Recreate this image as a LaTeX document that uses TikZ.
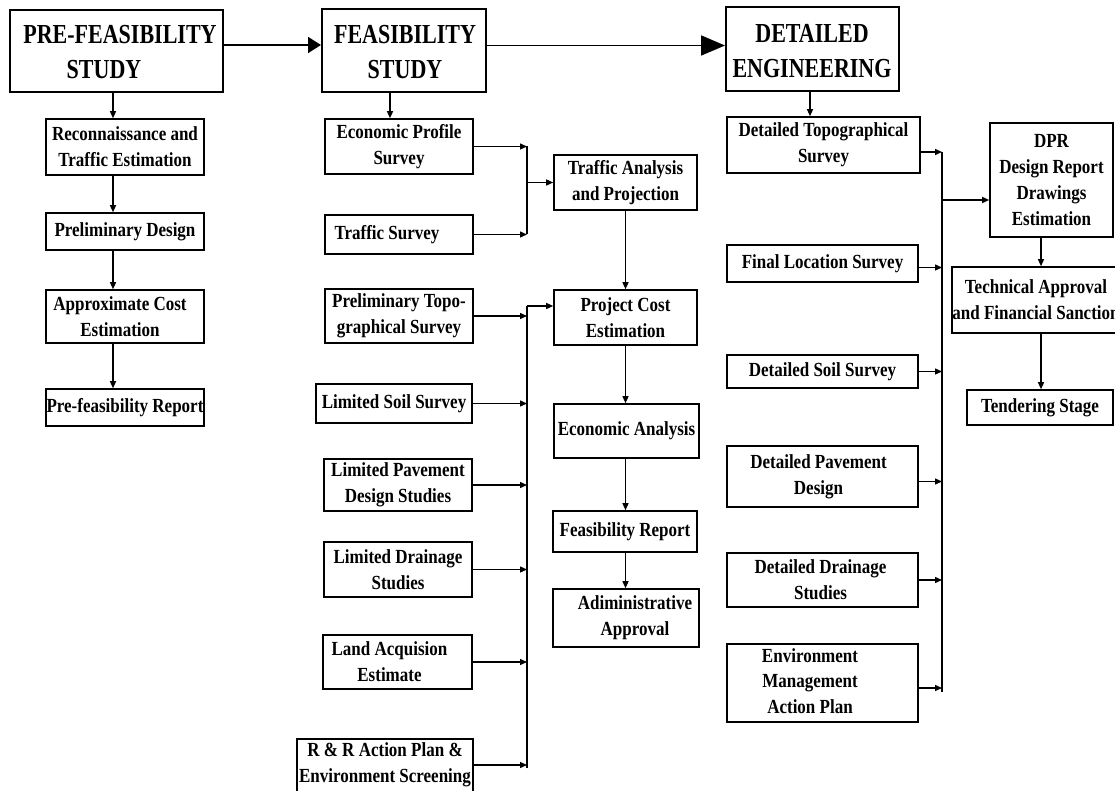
\documentclass[tikz,border=0pt]{standalone}
\usepackage{fontspec}
\setmainfont{Liberation Serif}[FakeStretch=0.85]
\newfontfamily\hdrfont{Liberation Serif}[FakeStretch=0.8]
\usetikzlibrary{arrows.meta}
\newcommand\mybox[6][box]{\node[#1, minimum width={(#5)-(#3)}, minimum height={(#6)-(#4)}] (#2) at ({((#3)+(#5))/2},{((#4)+(#6))/2}) {};}
\begin{document}
\begin{tikzpicture}[x=1pt,y=-1pt,
  box/.style={draw, line width=1.6pt, inner sep=0pt},
  hbox/.style={draw, line width=2pt, inner sep=0pt},
  txt/.style={font=\bfseries\fontsize{20}{26}\selectfont, align=center, inner sep=0pt},
  htxt/.style={font=\hdrfont\bfseries\fontsize{27.5}{35}\selectfont, align=center, inner sep=0pt},
  conn/.style={line width=1.3pt},
  arr/.style={conn, -{Triangle[length=7pt,width=6pt]}},
  hdrarrA/.style={line width=1.8pt, -{Triangle[length=13pt,width=16pt]}},
  hdrarrB/.style={line width=1.8pt, -{Triangle[length=24pt,width=20pt]}}]
\clip (0,0) rectangle (1115,791);
\fill[white] (0,0) rectangle (1115,791);

% headers
\mybox[hbox]{pre}{10}{10}{223}{92}
\mybox[hbox]{feas}{322}{9}{486}{92}
\mybox[hbox]{de}{726}{7}{899}{91}
\node[htxt] (pre-t1) at (120,35) {PRE-FEASIBILITY};
\node[htxt] (pre-t2) at (104,70) {STUDY};
\node[htxt] (feas-t) at (405,52) {FEASIBILITY\\STUDY};
\node[htxt] (de-t) at (812,51) {DETAILED\\ENGINEERING};

% column 1
\mybox{recon}{46}{119}{204}{175}
\mybox{pd}{46}{213}{204}{250}
\mybox{ace}{46}{290}{204}{343}
\mybox{pfr}{46}{389}{204}{426}
\node[txt] (recon-t) at (recon) {Reconnaissance and\\Traffic Estimation};
\node[txt] (pd-t) at (pd) {Preliminary Design};
\node[txt] (ace-t) at ([xshift=-5pt]ace) {Approximate Cost\\Estimation};
\node[txt] (pfr-t) at (pfr) {Pre-feasibility Report};

% column 2
\mybox{eps}{325}{119}{473}{174}
\mybox{ts}{325}{215}{473}{254}
\mybox{pts}{325}{289}{473}{343}
\mybox{lss}{316}{384}{472}{423}
\mybox{lpd}{324}{459}{472}{511}
\mybox{lds}{324}{542}{472}{597}
\mybox{lae}{323}{635}{472}{689}
\mybox{rr}{297}{739}{473}{796}
\node[txt] (eps-t) at (eps) {Economic Profile\\Survey};
\node[txt] (ts-t) at ([xshift=-12pt]ts) {Traffic Survey};
\node[txt] (pts-t) at (pts) {Preliminary Topo-\\graphical Survey};
\node[txt] (lss-t) at (lss) {Limited Soil Survey};
\node[txt] (lpd-t) at (lpd) {Limited Pavement\\Design Studies};
\node[txt] (lds-t) at (lds) {Limited Drainage\\Studies};
\node[txt] (lae-t) at ([xshift=-8pt]lae) {Land Acquision\\Estimate};
\node[txt] (rr-t) at (385,765) {R \& R Action Plan \&\\Environment Screening};

\mybox{tap}{554}{155}{697}{210}
\mybox{pce}{554}{290}{697}{345}
\mybox{ea}{554}{404}{699}{458}
\mybox{fr}{553}{511}{697}{552}
\mybox{aa}{553}{589}{699}{647}
\node[txt] (tap-t) at (tap) {Traffic Analysis\\and Projection};
\node[txt] (pce-t) at (pce) {Project Cost\\Estimation};
\node[txt] (ea-t) at (ea) {Economic Analysis};
\node[txt] (fr-t) at (fr) {Feasibility Report};
\node[txt] (aa-t) at ([xshift=9pt]aa) {Adiministrative\\Approval};

% column 3
\mybox{dts}{727}{117}{920}{173}
\mybox{fls}{727}{245}{918}{282}
\mybox{dss}{727}{355}{918}{388}
\mybox{dpd}{727}{446}{918}{507}
\mybox{dds}{727}{553}{918}{607}
\mybox{emap}{727}{644}{918}{722}
\node[txt] (dts-t) at (dts) {Detailed Topographical\\Survey};
\node[txt] (fls-t) at (fls) {Final Location Survey};
\node[txt] (dss-t) at (dss) {Detailed Soil Survey};
\node[txt] (dpd-t) at ([xshift=-4pt]dpd) {Detailed Pavement\\Design};
\node[txt, font=\bfseries\fontsize{20}{25.5}\selectfont] (emap-t) at (810,681) {Environment\\Management\\Action Plan};
\node[txt] (dds-t) at ([xshift=-2pt]dds) {Detailed Drainage\\Studies};

\mybox{dpr}{990}{123}{1113}{237}
\mybox{tafs}{952}{267}{1122}{333}
\mybox{tend}{967}{390}{1113}{425}
\node[txt] (dpr-t) at (dpr) {DPR\\Design Report\\Drawings\\Estimation};
\node[txt] (tafs-t) at (1036,300) {Technical Approval\\and Financial Sanction};
\node[txt] (tend-t) at (tend) {Tendering Stage};

% header arrows
\draw[hdrarrA] ([yshift=6pt]pre.east) -- ([yshift=6pt]pre.east -| feas.west);
\draw[hdrarrB] ([yshift=5pt]feas.east) -- ([yshift=5pt]feas.east -| de.west);

% vertical guide coordinates
\coordinate (c1) at (113,0);
\coordinate (c2) at (390,0);
\coordinate (c3) at (810,0);
\coordinate (c4) at (1041,0);
\coordinate (b1) at (527,0);
\coordinate (b2top) at (527,306);
\coordinate (b3) at (942,0);
\coordinate (b3d) at (942,200);

% column 1 arrows
\draw[arr] (pre.south -| c1) -- (recon.north -| c1);
\draw[arr] (recon.south -| c1) -- (pd.north -| c1);
\draw[arr] (pd.south -| c1) -- (ace.north -| c1);
\draw[arr] (ace.south -| c1) -- (pfr.north -| c1);

% column 2 arrows
\draw[arr] (feas.south -| c2) -- (eps.north -| c2);
\draw[arr] (eps.east) -- (eps.east -| b1);
\draw[arr] (ts.east) -- (ts.east -| b1);
\draw[conn] (eps.east -| b1) -- (ts.east -| b1);
\draw[arr] (tap.west -| b1) -- (tap.west);
\draw[arr] (tap.south) -- (pce.north);

\draw[conn] (b2top) -- (rr.east -| b2top);
\draw[arr] (b2top) -- (b2top -| pce.west);
\draw[arr] (pts.east) -- (pts.east -| b2top);
\draw[arr] (lss.east) -- (lss.east -| b2top);
\draw[arr] (lpd.east) -- (lpd.east -| b2top);
\draw[arr] (lds.east) -- (lds.east -| b2top);
\draw[arr] (lae.east) -- (lae.east -| b2top);
\draw[arr] (rr.east |- 0,765) -- (b2top |- 0,765);

\draw[arr] (pce.south) -- (ea.north -| pce.south);
\draw[arr] (ea.south -| pce.south) -- (fr.north -| pce.south);
\draw[arr] (fr.south -| pce.south) -- (aa.north -| pce.south);

% column 3 arrows
\draw[arr] (de.south -| c3) -- (dts.north -| c3);
\draw[arr] ([yshift=-7pt]dts.east) -- ([yshift=-7pt]dts.east -| b3);
\draw[arr] ([yshift=-4pt]fls.east) -- ([yshift=-4pt]fls.east -| b3);
\draw[arr] (dss.east) -- (dss.east -| b3);
\draw[arr] ([yshift=-5pt]dpd.east) -- ([yshift=-5pt]dpd.east -| b3);
\draw[arr] (dds.east) -- (dds.east -| b3);
\draw[arr] ([yshift=-5pt]emap.east) -- ([yshift=-5pt]emap.east -| b3);
\draw[conn] ([yshift=-7pt]dts.east -| b3) -- ([yshift=-9pt]emap.east -| b3);
\draw[arr] (b3d) -- (b3d -| dpr.west);

\draw[arr] (dpr.south -| c4) -- (tafs.north -| c4);
\draw[arr] (tafs.south -| c4) -- (tend.north -| c4);
\end{tikzpicture}
\end{document}
